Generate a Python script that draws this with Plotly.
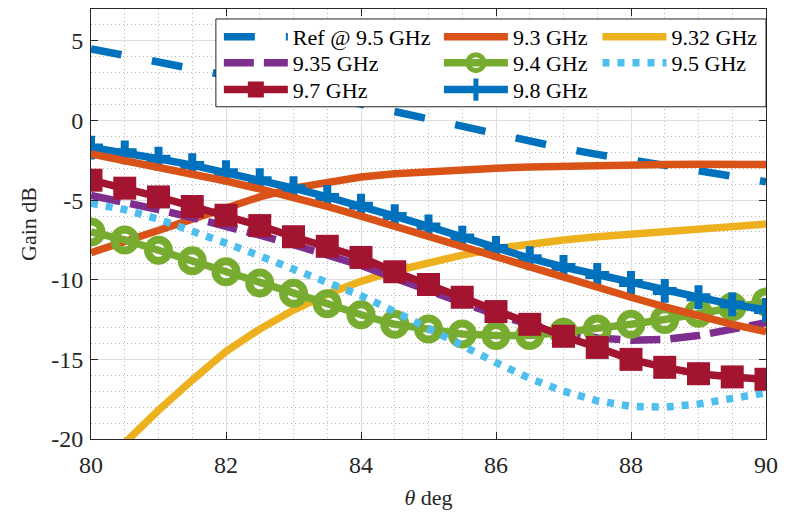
import plotly.graph_objects as go

# ---------------- data ----------------
theta = [80.0, 80.5, 81.0, 81.5, 82.0, 82.5, 83.0, 83.5, 84.0, 84.5, 85.0,
         85.5, 86.0, 86.5, 87.0, 87.5, 88.0, 88.5, 89.0, 89.5, 90.0]

ref_95 = [4.5, 4.1, 3.7, 3.28, 2.85, 2.42, 1.95, 1.48, 1.0, 0.52, 0.05,
          -0.4, -0.85, -1.3, -1.75, -2.13, -2.5, -2.83, -3.15, -3.5, -3.85]
g_930 = [-8.3, -7.6, -6.9, -6.15, -5.45, -4.8, -4.25, -3.85, -3.55, -3.35, -3.2,
         -3.08, -3.0, -2.92, -2.86, -2.81, -2.78, -2.76, -2.75, -2.75, -2.77]
g_932 = [-22.3, -20.2, -18.2, -16.3, -14.5, -13.1, -11.9, -10.9, -10.1, -9.45, -8.9,
         -8.45, -8.05, -7.75, -7.5, -7.3, -7.15, -6.98, -6.82, -6.65, -6.5]
g_935 = [-4.7, -5.1, -5.6, -6.1, -6.6, -7.2, -7.8, -8.4, -9.1, -9.9, -10.7,
         -11.5, -12.2, -12.8, -13.3, -13.65, -13.8, -13.75, -13.5, -13.1, -12.7]
g_940 = [-7.0, -7.5, -8.15, -8.8, -9.5, -10.2, -10.85, -11.5, -12.2, -12.8, -13.1,
         -13.4, -13.5, -13.5, -13.3, -13.1, -12.8, -12.5, -12.1, -11.7, -11.4]
g_950 = [-5.2, -5.6, -6.2, -6.9, -7.7, -8.5, -9.3, -10.1, -11.0, -12.0, -13.1,
         -14.2, -15.2, -16.2, -17.0, -17.6, -17.95, -18.0, -17.8, -17.45, -17.1]
g_970 = [-3.75, -4.25, -4.8, -5.4, -5.95, -6.6, -7.3, -7.9, -8.6, -9.5, -10.3,
         -11.1, -12.0, -12.8, -13.55, -14.25, -15.0, -15.5, -15.9, -16.1, -16.25]
g_980 = [-1.7, -2.0, -2.4, -2.8, -3.25, -3.75, -4.25, -4.8, -5.35, -6.0, -6.65,
         -7.35, -8.0, -8.65, -9.2, -9.7, -10.2, -10.7, -11.1, -11.55, -11.9]
g_extra = [-2.1, -2.5, -2.9, -3.35, -3.8, -4.3, -4.8, -5.4, -6.0, -6.65, -7.3,
           -7.9, -8.55, -9.2, -9.8, -10.45, -11.1, -11.7, -12.3, -12.8, -13.25]

names = ["Ref @ 9.5 GHz", "9.3 GHz", "9.32 GHz", "9.35 GHz", "9.4 GHz",
         "9.5 GHz", "9.7 GHz", "9.8 GHz"]

x_ticks = [80, 82, 84, 86, 88, 90]
y_ticks = [-20, -15, -10, -5, 0, 5]

# ---------------- styling ----------------
BLUE = "#0072BD"; ORANGE = "#D95319"; YELLOW = "#EDB120"; PURPLE = "#7E2F8E"
GREEN = "#77AC30"; CYAN = "#4DBEEE"; DARKRED = "#A2142F"
FONT = "Liberation Serif"
LW = 7.5

W, H = 786, 513
ML, MR, MT, MB = 91, 14, 8, 74
PW, PH = W - ML - MR, H - MT - MB


def px_x(px):
    return (px - ML) / PW


def px_y(py):
    return (H - MB - py) / PH


fig = go.Figure()

specs = [
    (ref_95, dict(color=BLUE, width=LW, dash="31px,31px"), None),
    (g_930, dict(color=ORANGE, width=LW), None),
    (g_932, dict(color=YELLOW, width=LW), None),
    (g_935, dict(color=PURPLE, width=LW, dash="30px,10px"), None),
    (g_940, dict(color=GREEN, width=LW),
     dict(symbol="circle-open", size=21, color=GREEN, line=dict(color=GREEN, width=8))),
    (g_950, dict(color=CYAN, width=LW, dash="7px,8px"), None),
    (g_970, dict(color=DARKRED, width=LW),
     dict(symbol="square", size=23, color=DARKRED, line=dict(width=0))),
    (g_980, dict(color=BLUE, width=LW),
     dict(symbol="cross-thin", size=17, color=BLUE, line=dict(color=BLUE, width=8))),
]

legend_ids = ["legend", "legend2", "legend3", "legend4", "legend5", "legend6",
              "legend7", "legend8"]

for (yv, line, marker), nm, lid in zip(specs, names, legend_ids):
    fig.add_trace(go.Scatter(
        x=theta, y=yv, name=nm, legend=lid,
        mode="lines+markers" if marker else "lines",
        line=line, marker=marker if marker else None,
    ))

# unlabeled orange curve (color order wraps)
fig.add_trace(go.Scatter(x=theta, y=g_extra, mode="lines", showlegend=False,
                         line=dict(color=ORANGE, width=LW)))

# legend layout: 3 columns x 3 rows, one legend per entry
col_left = [220, 442, 602]
row_y = [36, 62, 89]
slots = [(0, 0), (1, 0), (2, 0), (0, 1), (1, 1), (2, 1), (0, 2), (1, 2)]
leg_layout = {}
for lid, (c, r) in zip(legend_ids, slots):
    leg_layout[lid] = dict(
        x=px_x(col_left[c]), y=px_y(row_y[r]), xanchor="left", yanchor="middle",
        bgcolor="rgba(0,0,0,0)", borderwidth=0, itemwidth=64,
        font=dict(family=FONT, size=22, color="#000000"),
        orientation="v",
    )

axis_common = dict(
    showline=True, linecolor="#262626", linewidth=1, mirror="ticks",
    ticks="inside", ticklen=7, tickcolor="#262626", tickwidth=1,
    showgrid=True, gridcolor="#dedede", gridwidth=1, zeroline=False,
    tickfont=dict(family=FONT, size=24, color="#262626"),
)

fig.update_layout(
    width=W, height=H,
    margin=dict(l=ML, r=MR, t=MT, b=MB, pad=0),
    paper_bgcolor="white", plot_bgcolor="white",
    font=dict(family=FONT, size=22, color="#262626"),
    xaxis=dict(range=[80, 90], tickvals=x_ticks,
               ticktext=[str(v) for v in x_ticks], ticklabelstandoff=4,
               minor=dict(dtick=0.5, showgrid=True, gridcolor="#b8b8b8",
                          griddash="1px,3px", gridwidth=1),
               title=dict(text="<i>θ</i> deg", standoff=12,
                          font=dict(family=FONT, size=22, color="#262626")),
               **axis_common),
    yaxis=dict(range=[-20, 7], tickvals=y_ticks,
               ticktext=[str(v) for v in y_ticks], ticklabelstandoff=2,
               minor=dict(dtick=1, showgrid=True, gridcolor="#b8b8b8",
                          griddash="1px,3px", gridwidth=1),
               title=dict(text="Gain dB", standoff=8,
                          font=dict(family=FONT, size=22, color="#262626")),
               **axis_common),
    shapes=[dict(type="rect", xref="paper", yref="paper",
                 x0=px_x(217), x1=1.0, y0=px_y(106), y1=px_y(18),
                 fillcolor="white", line=dict(color="#262626", width=1),
                 layer="above")],
    **leg_layout,
)

fig.write_html("out.html")
